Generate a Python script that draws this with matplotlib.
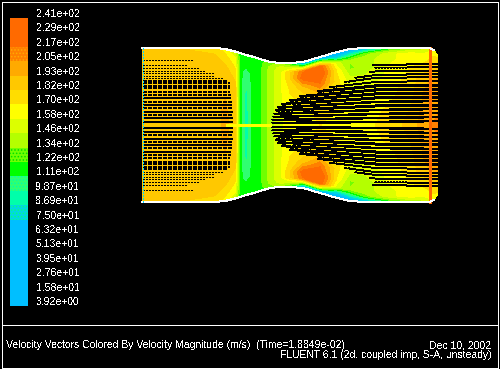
import matplotlib
matplotlib.use('Agg')
import matplotlib.pyplot as plt
import numpy as np

plt.rcParams['font.family'] = ['Liberation Sans', 'DejaVu Sans']
plt.rcParams['text.antialiased'] = False
plt.rcParams['hatch.linewidth'] = 0.7

# colour scale, bottom to top
level_labels = ['3.92e+00', '1.58e+01', '2.76e+01', '3.95e+01', '5.13e+01', '6.32e+01', '7.50e+01',
                '8.69e+01', '9.87e+01', '1.11e+02', '1.22e+02', '1.34e+02', '1.46e+02', '1.58e+02',
                '1.70e+02', '1.82e+02', '1.93e+02', '2.05e+02', '2.17e+02', '2.29e+02', '2.41e+02']
level_values = [float(s) for s in level_labels]
band_colors = ['#00bfff', '#00bfff', '#00bfff', '#00bfff', '#00bfff', '#00bfff', '#00d8e0',
               '#00ffaa', '#30ff70', '#00ff00', '#70ff00', '#b4ff00', '#dcff00', '#ffff00',
               '#ffdd00', '#ffc800', '#ffaa00', '#ff8000', '#ff6a00', '#ff6a00']
dither_colors = {6: '#00ff80', 8: '#00ffaa', 10: '#00e000', 17: '#ffaa00'}

# duct: column positions, half height of the wall
col_x = [142, 215, 225, 235, 240, 246, 252, 260, 270, 280, 290, 303, 320, 337, 350, 365, 390, 410, 425, 429, 434, 438]
wall_half = [77, 77, 76, 73.5, 72, 70, 68.5, 66, 63, 62, 62, 63, 68, 73, 76, 77, 77, 77, 77, 77, 75, 69]
eta = [0, .2, .4, .6, .75, .85, .92, .97, 1]

speed_half = [
    [190, 190, 190, 190, 190, 190, 190, 190, 190],
    [190, 190, 190, 190, 190, 188, 182, 178, 175],
    [195, 195, 192, 190, 186, 178, 172, 168, 165],
    [190, 188, 186, 182, 172, 165, 158, 150, 140],
    [116, 116, 116, 116, 116, 116, 116, 114, 112],
    [92, 92, 94, 98, 104, 114, 116, 116, 116],
    [112, 112, 112, 113, 114, 116, 116, 116, 116],
    [118, 118, 118, 118, 118, 118, 118, 116, 114],
    [140, 140, 140, 140, 140, 140, 136, 130, 120],
    [155, 155, 155, 155, 155, 155, 150, 140, 125],
    [165, 165, 168, 172, 182, 180, 150, 125, 105],
    [165, 168, 172, 190, 225, 215, 130, 70, 65],
    [170, 172, 180, 215, 235, 228, 150, 72, 60],
    [170, 170, 175, 175, 168, 150, 80, 65, 60],
    [166, 166, 160, 150, 132, 135, 95, 70, 60],
    [166, 165, 160, 150, 138, 140, 130, 85, 70],
    [176, 172, 166, 162, 160, 155, 155, 130, 100],
    [186, 182, 178, 175, 170, 165, 165, 145, 120],
    [200, 198, 195, 190, 176, 166, 160, 150, 130],
    [204, 200, 198, 192, 180, 170, 165, 155, 135],
    [206, 202, 199, 194, 185, 176, 170, 162, 150],
    [208, 204, 200, 196, 190, 182, 175, 170, 165],
]

# vector rows left of the throat: offset from centre, last x, dash gap
left_off = [3, 7, 10, 13.5, 17, 20, 23, 27, 30, 33, 37, 39, 42, 44, 47, 49, 52, 54, 57, 60, 65]
left_end = [233, 233, 233, 233, 232, 232, 232, 231, 231, 230, 230, 230, 230, 228, 223, 215, 215, 205, 200, 187, 193]
left_gap = [0, 0, 1, 0, 1, 0, 1, 0, 1, 1, 1, 1, 1, 1, 2, 2, 2, 2, 2, 2, 2]

# vector rows right of the throat: offset at x=272 and at x=375, first x, dash gap
right_off0 = [2, 5, 8, 11, 14, 17, 20, 23, 26, 29, 31, 33, 35, 37, 39, 41]
right_off1 = [3, 7, 11, 15, 19, 23, 27, 31, 35, 39, 43, 47, 50, 53.5, 57, 60]
right_start = [272, 272, 273, 274, 276, 278, 282, 290, 300, 318, 330, 345, 355, 370, 375, 373]
right_gap = [0, 0, 0, 0, 1, 0, 1, 1, 1, 1, 2, 2, 2, 2, 2, 2]

title_left = 'Velocity Vectors Colored By Velocity Magnitude (m/s)  (Time=1.8849e-02)'
title_date = 'Dec 10, 2002'
title_solver = 'FLUENT 6.1 (2d, coupled imp, S-A, unsteady)'

fig = plt.figure(figsize=(5, 3.69), dpi=100, facecolor='black')
ax = fig.add_axes([0, 0, 1, 1])
ax.set_xlim(0, 500)
ax.set_ylim(369, 0)
ax.axis('off')

# frame
frame_x = [1.5, 497.5, 497.5, 1.5, 1.5]
frame_y = [1.5, 1.5, 367.5, 367.5, 1.5]
ax.plot(frame_x, frame_y, color='white', lw=0.72, antialiased=False)
ax.plot([1.5, 497.5], [324.5, 324.5], color='white', lw=0.72, antialiased=False)

# field, mirrored about the centre line
half = np.array(speed_half, dtype=float)
col = np.array(col_x, dtype=float)
wall = np.array(wall_half, dtype=float)
e = np.array(eta)
cy = 125
full = np.hstack([half[:, :0:-1], half])
ee = np.concatenate([-e[:0:-1], e])
X = np.repeat(col[:, None], len(ee), axis=1)
Y = cy + wall[:, None] * ee[None, :]
cs = ax.contourf(X, Y, full, levels=level_values, colors=band_colors, antialiased=False)

# vector rows, the sparse outer ones are thinner
for off, end, gap in zip(left_off, left_end, left_gap):
    style = 'solid' if gap == 0 else (0, (2, gap))
    width = 0.72 if gap == 2 else 1.1
    ax.hlines([cy - off, cy + off], 143, end, color='black', lw=width, linestyles=style, capstyle='butt', antialiased=False)
for o0, o1, x0, gap in zip(right_off0, right_off1, right_start, right_gap):
    style = 'solid' if gap == 0 else (0, (2, gap))
    width = 0.72 if gap == 2 else 1.1
    if x0 < 375:
        x_way = [x0, 375, 438]
        y_way = [o0 + (o1 - o0) * (x0 - 272) / 103, o1, o1 + 1]
    else:
        x_way = [x0, 438]
        y_way = [o1, o1 + 1]
    for s in (-1, 1):
        ax.plot(x_way, [cy + s * v for v in y_way], color='black', lw=width, ls=style,
                solid_capstyle='butt', dash_capstyle='butt', antialiased=False)

# outlet stripe, centre streak, walls
ax.plot([429.5, 429.5], [48, 202], color='#ff6a00', lw=0.95, antialiased=False)
ax.plot([227, 270], [cy, cy], color='#ffff00', lw=0.95, antialiased=False)
ax.plot(col[:-1], (cy - wall)[:-1], color='white', lw=0.72, antialiased=False)
ax.plot(col[:-1], (cy + wall)[:-1], color='white', lw=0.72, antialiased=False)
ax.plot([142.5, 142.5], [48, 202], color='#00d8ff', lw=0.95, ls=(0, (1, 1)), antialiased=False)

# colour bar
for i, c in enumerate(band_colors):
    top = 306 - (i + 1) * 14.4
    ax.bar(19, 14.4, width=18, bottom=top, color=c, antialiased=False)
    if i in dither_colors:
        ax.bar(19, 14.4, width=18, bottom=top, facecolor='none', edgecolor=dither_colors[i],
               hatch='.....', lw=0, antialiased=False)
for i, lab in enumerate(level_labels):
    ax.text(36, 302 - i * 14.4, lab, color='white', fontsize=7.5, ha='left', va='center')

# captions
ax.text(6, 345, title_left, color='white', fontsize=7.5, ha='left', va='center')
ax.text(491, 345, title_date, color='white', fontsize=7.5, ha='right', va='center')
ax.text(492, 355, title_solver, color='white', fontsize=7.5, ha='right', va='center')

fig.savefig('out.png', dpi=100, facecolor='black')
